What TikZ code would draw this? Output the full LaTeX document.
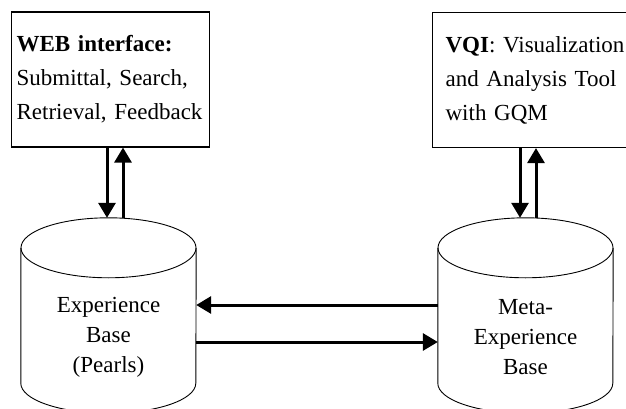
\documentclass[tikz,border=0pt]{standalone}
\usepackage{fontspec}
\setmainfont{Liberation Serif}
\usetikzlibrary{arrows.meta}

\tikzset{
	info box/.style={
		draw,
		line width=1.2pt,
		anchor=west,
		align=left,
		minimum height=135pt,
		font=\fontsize{23}{34}\selectfont
	},
	data base/.style={
		inner sep=0pt,
		minimum width=175pt,
		minimum height=195pt
	},
	cyl/.style={
		line width=0.9pt,
		x radius=87.5pt,
		y radius=30pt
	},
	base text/.style={
		align=center,
		font=\fontsize{23}{30}\selectfont
	},
	flow/.style={
		line width=3pt,
		-{Triangle[length=15pt,width=17pt]}
	}
}

\newcommand{\drawbase}[1]{
	\draw[cyl] ([yshift=-30pt]#1.north) ellipse [];
	\draw[cyl] ([yshift=-30pt]#1.north west) -- ([yshift=30pt]#1.south west)
		arc [start angle=180, end angle=360] -- ([yshift=-30pt]#1.north east);
}

\begin{document}
\begin{tikzpicture}[x=1pt,y=-1pt]
\useasboundingbox (0,0) rectangle (626,409);

\node[info box, inner xsep=5pt, text width=188pt] (web) at (11,79.5)
	{\textbf{WEB interface:}\\Submittal, Search,\\Retrieval, Feedback};
\node[info box, inner xsep=13pt, text width=190pt] (vqi) at (432,80)
	{\textbf{VQI}: Visualization\\and Analysis Tool\\with GQM};

\node[data base] (eb)  at (108.5,315.5) {};
\node[data base] (meb) at (525.5,315.5) {};
\drawbase{eb}
\drawbase{meb}

\node[base text] (ebtext)  at ([yshift=-22pt]eb.center)  {Experience\\Base\\(Pearls)};
\node[base text] (mebtext) at ([yshift=-22pt]meb.center) {Meta-\\Experience\\Base};

\coordinate (ebin)   at ([xshift=-1.5pt]eb.north);
\coordinate (ebout)  at ([xshift=14.5pt]eb.north);
\coordinate (mebin)  at ([xshift=-5.5pt]meb.north);
\coordinate (mebout) at ([xshift=10.5pt]meb.north);

\draw[flow] (web.south -| ebin) -- (ebin);
\draw[flow] (ebout) -- (web.south -| ebout);
\draw[flow] (vqi.south -| mebin) -- (mebin);
\draw[flow] (mebout) -- (vqi.south -| mebout);

\draw[flow] ([yshift=10.5pt]meb.west) -- ([yshift=10.5pt]eb.east);
\draw[flow] ([yshift=-26.5pt]eb.east) -- ([yshift=-26.5pt]meb.west);

\end{tikzpicture}
\end{document}
